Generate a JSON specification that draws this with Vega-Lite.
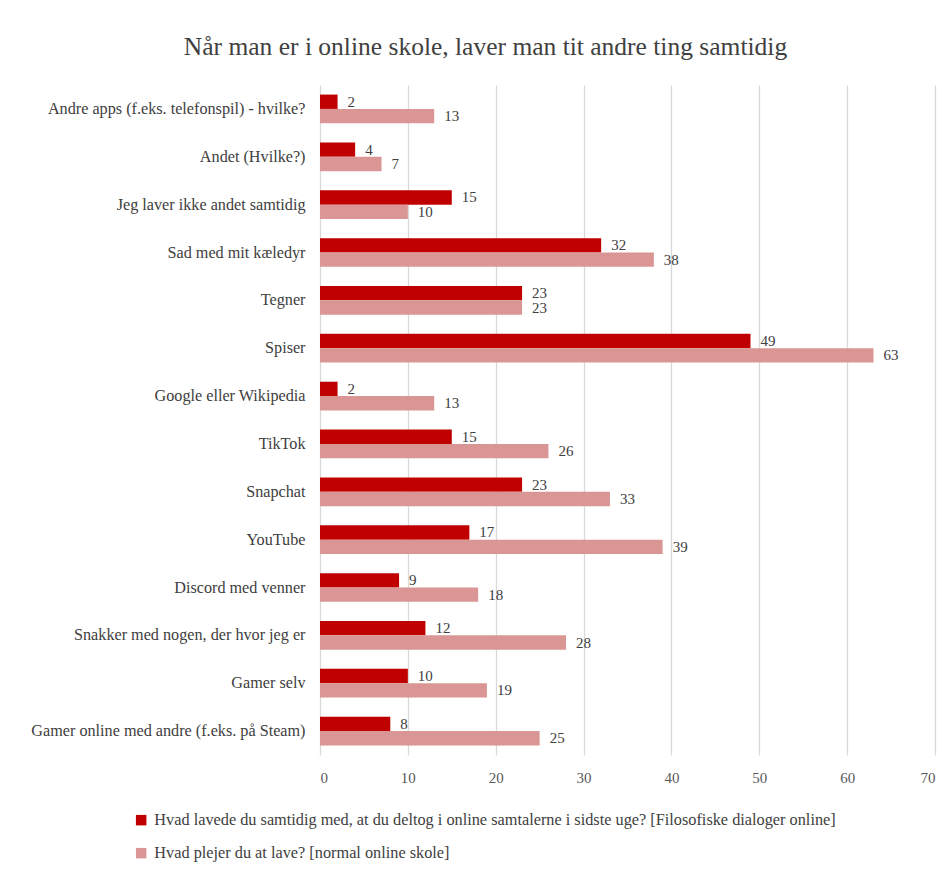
{
  "$schema": "https://vega.github.io/schema/vega-lite/v6.json",
  "width": 615,
  "height": 670,
  "autosize": {"type": "none"},
  "padding": {"left": 320, "top": 85, "right": 13, "bottom": 119},
  "background": "white",
  "title": {
    "text": "Når man er i online skole, laver man tit andre ting samtidig",
    "font": "Liberation Serif",
    "fontSize": 25.5,
    "fontWeight": "normal",
    "color": "#404040",
    "anchor": "middle",
    "dx": -142,
    "offset": 25
  },
  "data": {
    "values": [
      {"kategori": "Andre apps (f.eks. telefonspil) - hvilke?", "serie": "Hvad lavede du samtidig med, at du deltog i online samtalerne i sidste uge? [Filosofiske dialoger online]", "antal": 2},
      {"kategori": "Andre apps (f.eks. telefonspil) - hvilke?", "serie": "Hvad plejer du at lave? [normal online skole]", "antal": 13},
      {"kategori": "Andet (Hvilke?)", "serie": "Hvad lavede du samtidig med, at du deltog i online samtalerne i sidste uge? [Filosofiske dialoger online]", "antal": 4},
      {"kategori": "Andet (Hvilke?)", "serie": "Hvad plejer du at lave? [normal online skole]", "antal": 7},
      {"kategori": "Jeg laver ikke andet samtidig", "serie": "Hvad lavede du samtidig med, at du deltog i online samtalerne i sidste uge? [Filosofiske dialoger online]", "antal": 15},
      {"kategori": "Jeg laver ikke andet samtidig", "serie": "Hvad plejer du at lave? [normal online skole]", "antal": 10},
      {"kategori": "Sad med mit kæledyr", "serie": "Hvad lavede du samtidig med, at du deltog i online samtalerne i sidste uge? [Filosofiske dialoger online]", "antal": 32},
      {"kategori": "Sad med mit kæledyr", "serie": "Hvad plejer du at lave? [normal online skole]", "antal": 38},
      {"kategori": "Tegner", "serie": "Hvad lavede du samtidig med, at du deltog i online samtalerne i sidste uge? [Filosofiske dialoger online]", "antal": 23},
      {"kategori": "Tegner", "serie": "Hvad plejer du at lave? [normal online skole]", "antal": 23},
      {"kategori": "Spiser", "serie": "Hvad lavede du samtidig med, at du deltog i online samtalerne i sidste uge? [Filosofiske dialoger online]", "antal": 49},
      {"kategori": "Spiser", "serie": "Hvad plejer du at lave? [normal online skole]", "antal": 63},
      {"kategori": "Google eller Wikipedia", "serie": "Hvad lavede du samtidig med, at du deltog i online samtalerne i sidste uge? [Filosofiske dialoger online]", "antal": 2},
      {"kategori": "Google eller Wikipedia", "serie": "Hvad plejer du at lave? [normal online skole]", "antal": 13},
      {"kategori": "TikTok", "serie": "Hvad lavede du samtidig med, at du deltog i online samtalerne i sidste uge? [Filosofiske dialoger online]", "antal": 15},
      {"kategori": "TikTok", "serie": "Hvad plejer du at lave? [normal online skole]", "antal": 26},
      {"kategori": "Snapchat", "serie": "Hvad lavede du samtidig med, at du deltog i online samtalerne i sidste uge? [Filosofiske dialoger online]", "antal": 23},
      {"kategori": "Snapchat", "serie": "Hvad plejer du at lave? [normal online skole]", "antal": 33},
      {"kategori": "YouTube", "serie": "Hvad lavede du samtidig med, at du deltog i online samtalerne i sidste uge? [Filosofiske dialoger online]", "antal": 17},
      {"kategori": "YouTube", "serie": "Hvad plejer du at lave? [normal online skole]", "antal": 39},
      {"kategori": "Discord med venner", "serie": "Hvad lavede du samtidig med, at du deltog i online samtalerne i sidste uge? [Filosofiske dialoger online]", "antal": 9},
      {"kategori": "Discord med venner", "serie": "Hvad plejer du at lave? [normal online skole]", "antal": 18},
      {"kategori": "Snakker med nogen, der hvor jeg er", "serie": "Hvad lavede du samtidig med, at du deltog i online samtalerne i sidste uge? [Filosofiske dialoger online]", "antal": 12},
      {"kategori": "Snakker med nogen, der hvor jeg er", "serie": "Hvad plejer du at lave? [normal online skole]", "antal": 28},
      {"kategori": "Gamer selv", "serie": "Hvad lavede du samtidig med, at du deltog i online samtalerne i sidste uge? [Filosofiske dialoger online]", "antal": 10},
      {"kategori": "Gamer selv", "serie": "Hvad plejer du at lave? [normal online skole]", "antal": 19},
      {"kategori": "Gamer online med andre (f.eks. på Steam)", "serie": "Hvad lavede du samtidig med, at du deltog i online samtalerne i sidste uge? [Filosofiske dialoger online]", "antal": 8},
      {"kategori": "Gamer online med andre (f.eks. på Steam)", "serie": "Hvad plejer du at lave? [normal online skole]", "antal": 25}
    ]
  },
  "encoding": {
    "y": {
      "field": "kategori",
      "type": "nominal",
      "sort": null,
      "title": null,
      "scale": {"paddingInner": 0.4, "paddingOuter": 0.2},
      "axis": {
        "labelFont": "Liberation Serif",
        "labelFontSize": 16.2,
        "labelColor": "#404040",
        "labelPadding": 15,
        "ticks": false,
        "domain": false,
        "grid": false,
        "labelLimit": 400
      }
    },
    "yOffset": {
      "field": "serie",
      "type": "nominal",
      "sort": null,
      "scale": {"paddingInner": 0, "paddingOuter": 0}
    },
    "x": {
      "field": "antal",
      "type": "quantitative",
      "title": null,
      "scale": {"domain": [0, 70], "nice": false},
      "axis": {
        "values": [0, 10, 20, 30, 40, 50, 60, 70],
        "labelFont": "Liberation Serif",
        "labelFontSize": 15,
        "labelColor": "#595959",
        "labelPadding": 15,
        "ticks": false,
        "domain": false,
        "grid": true,
        "gridColor": "#d9d9d9",
        "gridWidth": 1.3
      }
    }
  },
  "layer": [
    {
      "mark": {"type": "bar"},
      "encoding": {
        "color": {
          "field": "serie",
          "type": "nominal",
          "scale": {
            "domain": [
              "Hvad lavede du samtidig med, at du deltog i online samtalerne i sidste uge? [Filosofiske dialoger online]",
              "Hvad plejer du at lave? [normal online skole]"
            ],
            "range": ["#C00000", "#D99694"]
          },
          "legend": {
            "title": null,
            "orient": "none",
            "legendX": -187,
            "legendY": 727,
            "direction": "vertical",
            "symbolType": "square",
            "symbolSize": 110,
            "symbolStrokeWidth": 0,
            "labelFont": "Liberation Serif",
            "labelFontSize": 16.3,
            "labelColor": "#404040",
            "labelLimit": 900,
            "rowPadding": 16,
            "labelOffset": 5
          }
        }
      }
    },
    {
      "mark": {
        "type": "text",
        "align": "left",
        "baseline": "middle",
        "dx": 10,
        "font": "Liberation Serif",
        "fontSize": 15,
        "color": "#404040"
      },
      "encoding": {
        "text": {"field": "antal", "type": "quantitative"}
      }
    }
  ],
  "config": {
    "font": "Liberation Serif",
    "view": {"stroke": null}
  }
}
